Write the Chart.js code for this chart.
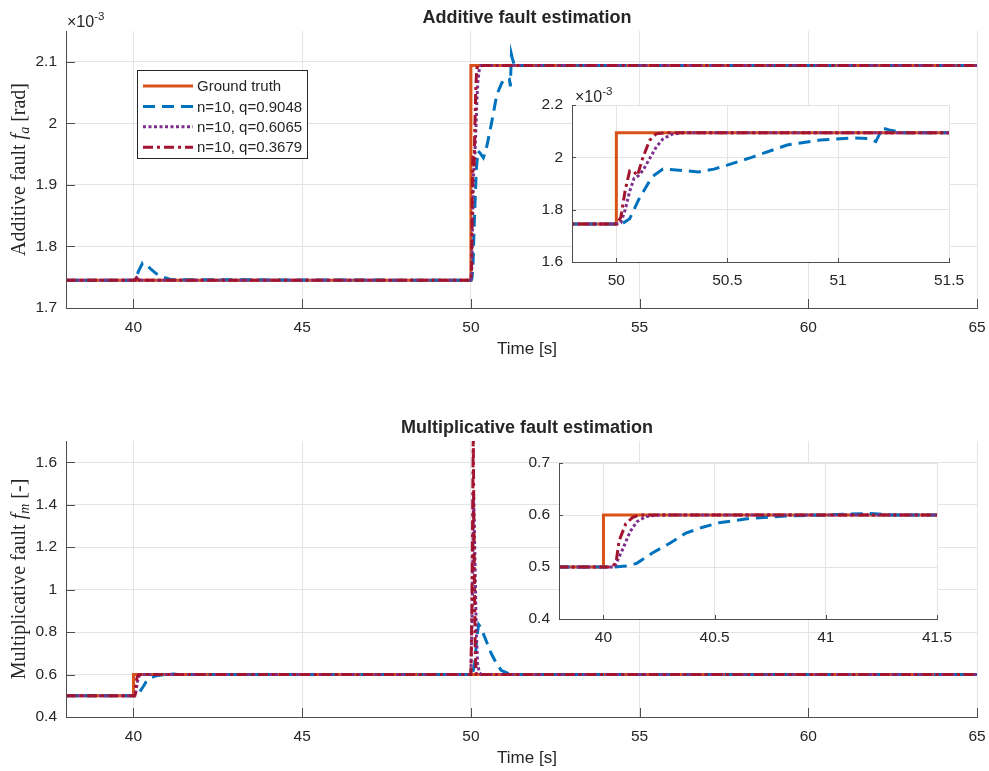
<!DOCTYPE html>
<html lang="en">
<head>
<meta charset="UTF-8">
<title>Fault estimation</title>
<script src="https://cdn.jsdelivr.net/npm/chart.js"></script>
<style>
  body { margin: 0; background: #fff; overflow: hidden; }
  .wrap { position: relative; width: 989px; height: 771px; }
  canvas { position: absolute; }
</style>
</head>
<body>
<div class="wrap">
  <canvas id="addMain" width="989" height="390" style="left:0;top:0"></canvas>
  <canvas id="mulMain" width="989" height="381" style="left:0;top:390px"></canvas>
  <canvas id="addZoom" width="460" height="215" style="left:520px;top:85px"></canvas>
  <canvas id="mulZoom" width="470" height="210" style="left:505px;top:440px"></canvas>
</div>
<script>
// ---------- additive fault f_a, values in 1e-3 rad ----------
const addTruthTime = [38, 50, 50, 65];
const addTruthVal  = [1.745, 1.745, 2.094, 2.094];

const addQ9048Time = [38, 40.05, 40.15, 40.27, 40.38, 40.5, 40.67, 40.9, 41.12, 50.0, 50.03, 50.06, 50.1, 50.16, 50.21, 50.27, 50.32, 50.37, 50.44, 50.5, 50.61, 50.77, 50.92, 51.07, 51.14, 51.17, 51.2, 51.23, 51.29, 65];
const addQ9048Val  = [1.745, 1.745, 1.76, 1.773, 1.77, 1.764, 1.756, 1.75, 1.746, 1.745, 1.748, 1.765, 1.837, 1.925, 1.955, 1.952, 1.948, 1.944, 1.955, 1.97, 2.0, 2.047, 2.066, 2.074, 2.072, 2.06, 2.112, 2.105, 2.094, 2.094];

const addQ6065Time = [38, 40.05, 40.1, 40.15, 50.0, 50.02, 50.04, 50.06, 50.08, 50.1, 50.12, 50.15, 50.18, 50.21, 50.25, 50.3, 65];
const addQ6065Val  = [1.745, 1.745, 1.749, 1.745, 1.745, 1.75, 1.80, 1.87, 1.92, 1.93, 1.95, 1.995, 2.04, 2.07, 2.088, 2.094, 2.094];

const addQ3679Time = [38, 40.05, 40.1, 40.17, 50.0, 50.02, 50.04, 50.06, 50.08, 50.095, 50.12, 50.15, 50.18, 50.22, 65];
const addQ3679Val  = [1.745, 1.745, 1.752, 1.745, 1.745, 1.77, 1.875, 1.948, 1.945, 1.93, 2.0, 2.065, 2.09, 2.094, 2.094];

// ---------- multiplicative fault f_m ----------
const mulTruthTime = [38, 40, 40, 65];
const mulTruthVal  = [0.5, 0.5, 0.6, 0.6];

const mulQ9048Time = [38, 40.05, 40.1, 40.15, 40.22, 40.3, 40.37, 40.45, 40.52, 40.6, 40.67, 40.82, 41.0, 41.2, 41.3, 50.0, 50.06, 50.12, 50.18, 50.23, 50.3, 50.45, 50.6, 50.75, 50.9, 51.1, 51.3, 65];
const mulQ9048Val  = [0.5, 0.5, 0.502, 0.507, 0.527, 0.546, 0.565, 0.577, 0.585, 0.59, 0.594, 0.598, 0.6, 0.603, 0.6, 0.6, 0.61, 0.66, 0.78, 0.835, 0.82, 0.76, 0.7, 0.655, 0.62, 0.605, 0.6, 0.6];

const mulQ6065Time = [38, 40.05, 40.085, 40.12, 40.15, 40.19, 40.25, 50.0, 50.04, 50.08, 50.12, 50.16, 50.2, 50.25, 50.3, 65];
const mulQ6065Val  = [0.5, 0.5, 0.533, 0.568, 0.587, 0.597, 0.6, 0.6, 0.9, 1.45, 1.15, 0.8, 0.65, 0.61, 0.6, 0.6];

const mulQ3679Time = [38, 40.04, 40.057, 40.07, 40.1, 40.13, 40.16, 50.0, 50.03, 50.07, 50.1, 50.13, 50.16, 65];
const mulQ3679Val  = [0.5, 0.5, 0.51, 0.55, 0.583, 0.595, 0.6, 0.6, 0.9, 1.72, 1.1, 0.7, 0.6, 0.6];

// ---------- labels and ticks ----------
const seriesLabels = ['Ground truth', 'n=10, q=0.9048', 'n=10, q=0.6065', 'n=10, q=0.3679'];
const mainTimeTicks = [40, 45, 50, 55, 60, 65];
const addTicks = [1.7, 1.8, 1.9, 2, 2.1];
const addZoomTimeTicks = [50, 50.5, 51, 51.5];
const addZoomTicks = [1.6, 1.8, 2, 2.2];
const mulTicks = [0.4, 0.6, 0.8, 1, 1.2, 1.4, 1.6];
const mulZoomTimeTicks = [40, 40.5, 41, 41.5];
const mulZoomTicks = [0.4, 0.5, 0.6, 0.7];

// line look per series (same order as seriesLabels)
const lineStyles = [
  { color: '#D95319', dash: [] },
  { color: '#0072BD', dash: [12, 7] },
  { color: '#7E2F8E', dash: [3, 2.5] },
  { color: '#A2142F', dash: [10, 4, 3, 4] }
];

const SANS = "'Liberation Sans', Arial, Helvetica, sans-serif";
const SERIF = "'Liberation Serif', 'Times New Roman', serif";
const INK = '#262626';

Chart.defaults.font.family = SANS;
Chart.defaults.font.size = 15.5;
Chart.defaults.color = INK;

function makeDatasets(series) {
  return series.map(([t, v], i) => ({
    label: seriesLabels[i],
    data: t.map((x, k) => ({ x, y: v[k] })),
    borderColor: lineStyles[i].color,
    borderDash: lineStyles[i].dash,
    borderWidth: 3,
    pointRadius: 0,
    tension: 0,
    fill: false,
    order: 3 - i          // ground truth at the back, q=0.3679 on top
  }));
}

function axis(min, max, ticks, size, pad, horizontal) {
  return {
    type: 'linear', min, max, bounds: 'data',
    afterBuildTicks: s => { s.ticks = ticks.map(v => ({ value: v })); },
    afterFit: s => {
      if (horizontal) s.height = size; else s.width = size;
      s.paddingLeft = s.paddingRight = s.paddingTop = s.paddingBottom = 0;
    },
    ticks: { padding: pad, maxRotation: 0, autoSkip: false, callback: v => String(+v.toFixed(3)) },
    grid: { color: '#e4e4e4', lineWidth: 1, drawTicks: false },
    border: { color: '#4d4d4d', width: 1, z: 1 }
  };
}

// MATLAB-style ticks pointing into the axes
function innerTicks(len) {
  return {
    id: 'innerTicks',
    beforeDatasetsDraw(chart) {
      const { ctx, chartArea: a, scales: { x, y } } = chart;
      ctx.save();
      ctx.strokeStyle = '#4d4d4d';
      ctx.lineWidth = 1;
      ctx.beginPath();
      x.ticks.forEach(t => {
        const p = Math.round(x.getPixelForValue(t.value)) + 0.5;
        ctx.moveTo(p, a.bottom); ctx.lineTo(p, a.bottom - len);
      });
      y.ticks.forEach(t => {
        const p = Math.round(y.getPixelForValue(t.value)) + 0.5;
        ctx.moveTo(a.left, p); ctx.lineTo(a.left + len, p);
      });
      ctx.stroke();
      ctx.restore();
    }
  };
}

const whiteArea = {
  id: 'whiteArea',
  beforeDraw(chart) {
    const { ctx, chartArea: a } = chart;
    ctx.save();
    ctx.fillStyle = '#fff';
    ctx.fillRect(a.left, a.top, a.right - a.left, a.bottom - a.top);
    ctx.restore();
  }
};

// "×10^-3" multiplier above the y axis
function drawExponent(ctx, x, y, big, small) {
  ctx.save();
  ctx.fillStyle = INK;
  ctx.textBaseline = 'alphabetic';
  ctx.textAlign = 'left';
  ctx.font = big + 'px ' + SANS;
  ctx.fillText('\u00d710', x, y);
  const w = ctx.measureText('\u00d710').width;
  ctx.font = small + 'px ' + SANS;
  ctx.fillText('-3', x + w, y - big * 0.4);
  ctx.restore();
}

// rotated y label with an italic subscripted symbol
function drawYLabel(ctx, parts, bx, cy, size) {
  ctx.save();
  ctx.translate(bx, cy);
  ctx.rotate(-Math.PI / 2);
  ctx.fillStyle = INK;
  ctx.textBaseline = 'alphabetic';
  ctx.textAlign = 'left';
  const fontOf = p => (p.it ? 'italic ' : '') + (p.sub ? size * 0.7 : size) + 'px ' + SERIF;
  const widths = parts.map(p => { ctx.font = fontOf(p); return ctx.measureText(p.text).width; });
  let u = -widths.reduce((s, w) => s + w, 0) / 2;
  parts.forEach((p, i) => {
    ctx.font = fontOf(p);
    ctx.fillText(p.text, u, p.sub ? size * 0.22 : 0);
    u += widths[i];
  });
  ctx.restore();
}

function mainText(title, titleY, xlabelY, yParts, yCenter, withExp) {
  return {
    id: 'mainText',
    afterDraw(chart) {
      const ctx = chart.ctx;
      ctx.save();
      ctx.fillStyle = INK;
      ctx.textAlign = 'center';
      ctx.textBaseline = 'alphabetic';
      ctx.font = 'bold 18px ' + SANS;
      ctx.fillText(title, 527, titleY);
      ctx.font = '17px ' + SANS;
      ctx.fillText('Time [s]', 527, xlabelY);
      ctx.restore();
      drawYLabel(ctx, yParts, 25, yCenter, 20);
      if (withExp) drawExponent(ctx, 67, 26.5, 16, 11.5);
    }
  };
}

const legendBox = {
  id: 'legendBox',
  afterDatasetsDraw(chart) {
    const ctx = chart.ctx;
    const left = 137, top = 70, w = 170, h = 88;
    ctx.save();
    ctx.fillStyle = '#fff';
    ctx.fillRect(left, top, w, h);
    ctx.strokeStyle = INK;
    ctx.lineWidth = 1;
    ctx.strokeRect(left + 0.5, top + 0.5, w, h);
    ctx.font = '15px ' + SANS;
    ctx.textBaseline = 'middle';
    ctx.textAlign = 'left';
    seriesLabels.forEach((lab, i) => {
      const y = 86 + i * 20.4;
      ctx.beginPath();
      ctx.setLineDash(lineStyles[i].dash);
      ctx.strokeStyle = lineStyles[i].color;
      ctx.lineWidth = 3;
      ctx.moveTo(143, y); ctx.lineTo(193, y);
      ctx.stroke();
      ctx.setLineDash([]);
      ctx.fillStyle = INK;
      ctx.fillText(lab, 197, y + 1);
    });
    ctx.restore();
  }
};

const baseOptions = {
  responsive: false,
  animation: false,
  events: [],
  plugins: { legend: { display: false }, title: { display: false }, tooltip: { enabled: false } }
};

const addSeries = [[addTruthTime, addTruthVal], [addQ9048Time, addQ9048Val], [addQ6065Time, addQ6065Val], [addQ3679Time, addQ3679Val]];
const mulSeries = [[mulTruthTime, mulTruthVal], [mulQ9048Time, mulQ9048Val], [mulQ6065Time, mulQ6065Val], [mulQ3679Time, mulQ3679Val]];

// top: additive fault
new Chart(document.getElementById('addMain'), {
  type: 'line',
  data: { datasets: makeDatasets(addSeries) },
  options: Object.assign({}, baseOptions, {
    layout: { autoPadding: false, padding: { left: 0, top: 31, right: 12, bottom: 32 } },
    scales: {
      x: axis(38, 65, mainTimeTicks, 50, 10, true),
      y: axis(1.7, 2.15, addTicks, 66, 9, false)
    }
  }),
  plugins: [innerTicks(9), legendBox,
    mainText('Additive fault estimation', 23, 354,
      [{ text: 'Additive fault ' }, { text: 'f', it: true }, { text: 'a', it: true, sub: true }, { text: ' [rad]' }], 169.5, true)]
});

// bottom: multiplicative fault
new Chart(document.getElementById('mulMain'), {
  type: 'line',
  data: { datasets: makeDatasets(mulSeries) },
  options: Object.assign({}, baseOptions, {
    layout: { autoPadding: false, padding: { left: 0, top: 51, right: 12, bottom: 4 } },
    scales: {
      x: axis(38, 65, mainTimeTicks, 50, 10, true),
      y: axis(0.4, 1.7, mulTicks, 66, 9, false)
    }
  }),
  plugins: [innerTicks(9),
    mainText('Multiplicative fault estimation', 43, 373,
      [{ text: 'Multiplicative fault ' }, { text: 'f', it: true }, { text: 'm', it: true, sub: true }, { text: ' [-]' }], 189, false)]
});

// zoomed view of the additive step
new Chart(document.getElementById('addZoom'), {
  type: 'line',
  data: { datasets: makeDatasets(addSeries) },
  options: Object.assign({}, baseOptions, {
    layout: { autoPadding: false, padding: { left: 0, top: 20, right: 31, bottom: 0 } },
    scales: {
      x: axis(49.8, 51.5, addZoomTimeTicks, 38, 9, true),
      y: axis(1.6, 2.2, addZoomTicks, 52, 9, false)
    }
  }),
  plugins: [whiteArea, innerTicks(4), {
    id: 'zoomExp',
    afterDraw(chart) { drawExponent(chart.ctx, 55, 16.5, 16, 11.5); }
  }]
});

// zoomed view of the multiplicative step
new Chart(document.getElementById('mulZoom'), {
  type: 'line',
  data: { datasets: makeDatasets(mulSeries) },
  options: Object.assign({}, baseOptions, {
    layout: { autoPadding: false, padding: { left: 0, top: 23, right: 38, bottom: 0 } },
    scales: {
      x: axis(39.8, 41.5, mulZoomTimeTicks, 31, 9, true),
      y: axis(0.4, 0.7, mulZoomTicks, 54, 9, false)
    }
  }),
  plugins: [whiteArea, innerTicks(4)]
});
</script>
</body>
</html>
